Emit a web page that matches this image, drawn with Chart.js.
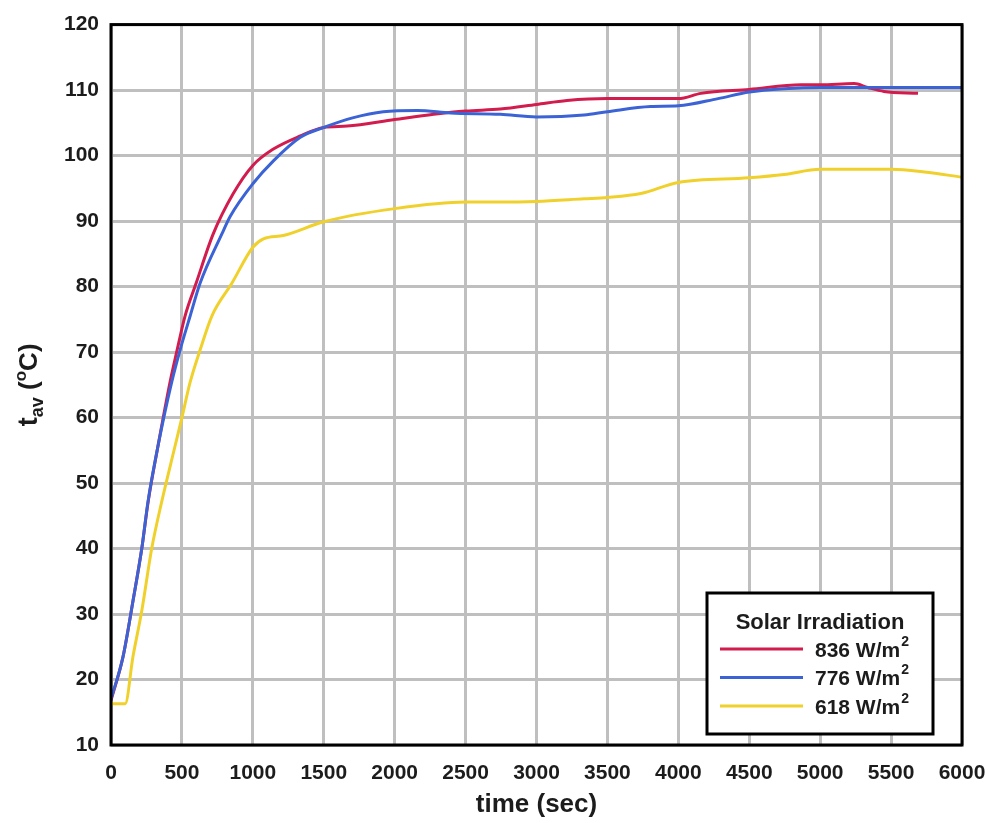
<!DOCTYPE html>
<html>
<head>
<meta charset="utf-8">
<title>Average temperature vs time</title>
<script src="https://cdn.jsdelivr.net/npm/chart.js@4.4.0/dist/chart.umd.min.js"></script>
<style>
  html, body { margin: 0; padding: 0; background: #ffffff; }
  canvas { display: block; }
</style>
</head>
<body>
<canvas id="chart-tav" width="989" height="823"></canvas>
<script>
// Measured series (time in seconds, average temperature in °C)
const redTime = [0, 85, 155, 217, 261, 330, 416, 466, 522, 600, 720, 862, 1000, 1145, 1335, 1500, 1665, 2000, 2275, 2500, 2745, 3000, 3215, 3500, 4000, 4160, 4500, 4865, 5000, 5240, 5335, 5450, 5690];
const redTemp = [16.8, 23.5, 32, 40, 47, 55.5, 65.4, 70.3, 75.5, 80.5, 88, 94.2, 98.5, 101, 103, 104.3, 104.5, 105.5, 106.3, 106.8, 107.1, 107.8, 108.4, 108.7, 108.7, 109.5, 110.1, 110.8, 110.8, 111, 110.4, 109.8, 109.5];

const blueTime = [0, 85, 155, 217, 261, 330, 428, 487, 558, 628, 781, 840, 1000, 1145, 1335, 1500, 1710, 1920, 2160, 2395, 2745, 3000, 3335, 3500, 3805, 4000, 4280, 4500, 4745, 5000, 5500, 6000];
const blueTemp = [17, 23.5, 32, 40, 47.2, 55.5, 65.4, 70.3, 75.5, 80.5, 88, 90.7, 95.7, 99.2, 102.8, 104.3, 105.8, 106.7, 106.9, 106.5, 106.3, 105.9, 106.2, 106.7, 107.5, 107.6, 108.7, 109.7, 110.2, 110.4, 110.4, 110.4];

const yellowTime = [0, 100, 155, 217, 287, 358, 450, 500, 558, 628, 711, 852, 1000, 1075, 1215, 1500, 2000, 2500, 2745, 3000, 3335, 3500, 3735, 4000, 4500, 4745, 5000, 5500, 5735, 6000];
const yellowTemp = [16.3, 16.3, 23.5, 30.5, 40, 47.2, 55.5, 60, 65.4, 70.3, 75.5, 80.5, 86, 87.3, 87.8, 89.9, 91.9, 92.9, 92.9, 93.0, 93.4, 93.6, 94.2, 95.9, 96.6, 97.1, 97.9, 97.9, 97.5, 96.7];

const seriesLabels = ['836 W/m', '776 W/m', '618 W/m'];
const legendTitle = 'Solar Irradiation';
const xTitle = 'time (sec)';

const FONT = "'Liberation Sans', Arial, sans-serif";
const textColor = '#1c1c1c';
const gridColor = '#bfbfbf';
const seriesColors = ['#d21c4e', '#3b63d6', '#f0d12c'];

const toPoints = (times, temps) => times.map((t, i) => ({ x: t, y: temps[i] }));

// y-axis title with subscript "av" and superscript "o"
const yTitlePlugin = {
    id: 'yTitle',
    afterDraw(chart) {
        const { ctx, chartArea } = chart;
        const pieces = [
            { text: 't', size: 27, dy: 0 },
            { text: 'av', size: 18, dy: 6 },
            { text: ' (', size: 26, dy: 0 },
            { text: 'o', size: 17, dy: -11 },
            { text: 'C)', size: 26, dy: 0 },
        ];
        ctx.save();
        ctx.fillStyle = textColor;
        ctx.textBaseline = 'alphabetic';
        ctx.textAlign = 'left';
        let total = 0;
        pieces.forEach((p) => {
            ctx.font = `bold ${p.size}px ${FONT}`;
            p.w = ctx.measureText(p.text).width;
            total += p.w;
        });
        ctx.translate(37, (chartArea.top + chartArea.bottom) / 2);
        ctx.rotate(-Math.PI / 2);
        let x = -total / 2;
        pieces.forEach((p) => {
            ctx.font = `bold ${p.size}px ${FONT}`;
            ctx.fillText(p.text, x, p.dy);
            x += p.w;
        });
        ctx.restore();
    },
};

// black frame round the plot area plus the boxed legend
const frameLegendPlugin = {
    id: 'frameLegend',
    afterDraw(chart) {
        const { ctx, chartArea } = chart;
        ctx.save();
        ctx.strokeStyle = '#000000';
        ctx.lineWidth = 3;
        ctx.strokeRect(chartArea.left, chartArea.top, chartArea.right - chartArea.left, chartArea.bottom - chartArea.top);

        const boxW = 226;
        const boxH = 141;
        const boxX = chartArea.right - 29 - boxW;
        const boxY = chartArea.bottom - 11 - boxH;
        ctx.fillStyle = '#ffffff';
        ctx.fillRect(boxX, boxY, boxW, boxH);
        ctx.strokeRect(boxX, boxY, boxW, boxH);

        ctx.fillStyle = textColor;
        ctx.font = `bold 22px ${FONT}`;
        ctx.textAlign = 'center';
        ctx.textBaseline = 'middle';
        ctx.fillText(legendTitle, boxX + boxW / 2, boxY + 30);

        chart.data.datasets.forEach((ds, i) => {
            const rowY = boxY + 56 + i * 28.5;
            ctx.strokeStyle = ds.borderColor;
            ctx.lineWidth = 3;
            ctx.beginPath();
            ctx.moveTo(boxX + 13, rowY);
            ctx.lineTo(boxX + 96, rowY);
            ctx.stroke();

            ctx.fillStyle = textColor;
            ctx.textAlign = 'left';
            ctx.textBaseline = 'middle';
            ctx.font = `bold 21px ${FONT}`;
            const tx = boxX + 108;
            ctx.fillText(ds.label, tx, rowY + 2);
            const w = ctx.measureText(ds.label).width;
            ctx.font = `bold 14px ${FONT}`;
            ctx.fillText('2', tx + w + 1, rowY - 7);
        });
        ctx.restore();
    },
};

const tickFont = { family: FONT, size: 21, weight: 'bold' };
const plainNumber = (value) => String(value);

new Chart(document.getElementById('chart-tav'), {
    type: 'line',
    data: {
        datasets: [
            { label: seriesLabels[0], data: toPoints(redTime, redTemp), borderColor: seriesColors[0], order: 1 },
            { label: seriesLabels[1], data: toPoints(blueTime, blueTemp), borderColor: seriesColors[1], order: 0 },
            { label: seriesLabels[2], data: toPoints(yellowTime, yellowTemp), borderColor: seriesColors[2], order: 2 },
        ].map((ds) => ({
            ...ds,
            borderWidth: 3,
            pointRadius: 0,
            fill: false,
            cubicInterpolationMode: 'monotone',
        })),
    },
    options: {
        responsive: false,
        animation: false,
        layout: { padding: { top: 20, right: 27, left: 31, bottom: 0 } },
        plugins: {
            legend: { display: false },
            tooltip: { enabled: false },
        },
        scales: {
            x: {
                type: 'linear',
                min: 0,
                max: 6000,
                ticks: { stepSize: 500, font: tickFont, color: textColor, padding: 16, maxRotation: 0, callback: plainNumber },
                grid: { color: gridColor, lineWidth: 3, drawTicks: false },
                border: { display: false },
                title: {
                    display: true,
                    text: xTitle,
                    color: textColor,
                    font: { family: FONT, size: 26, weight: 'bold' },
                    padding: { top: 0, bottom: 3 },
                },
                afterFit: (scale) => {
                    scale.height = 78;
                    scale.paddingLeft = 0;
                    scale.paddingRight = 0;
                },
            },
            y: {
                min: 10,
                max: 120,
                ticks: { stepSize: 10, font: tickFont, color: textColor, padding: 12, callback: plainNumber },
                grid: { color: gridColor, lineWidth: 3, drawTicks: false },
                border: { display: false },
                afterFit: (scale) => { scale.width = 80; },
            },
        },
    },
    plugins: [yTitlePlugin, frameLegendPlugin],
});
</script>
</body>
</html>
